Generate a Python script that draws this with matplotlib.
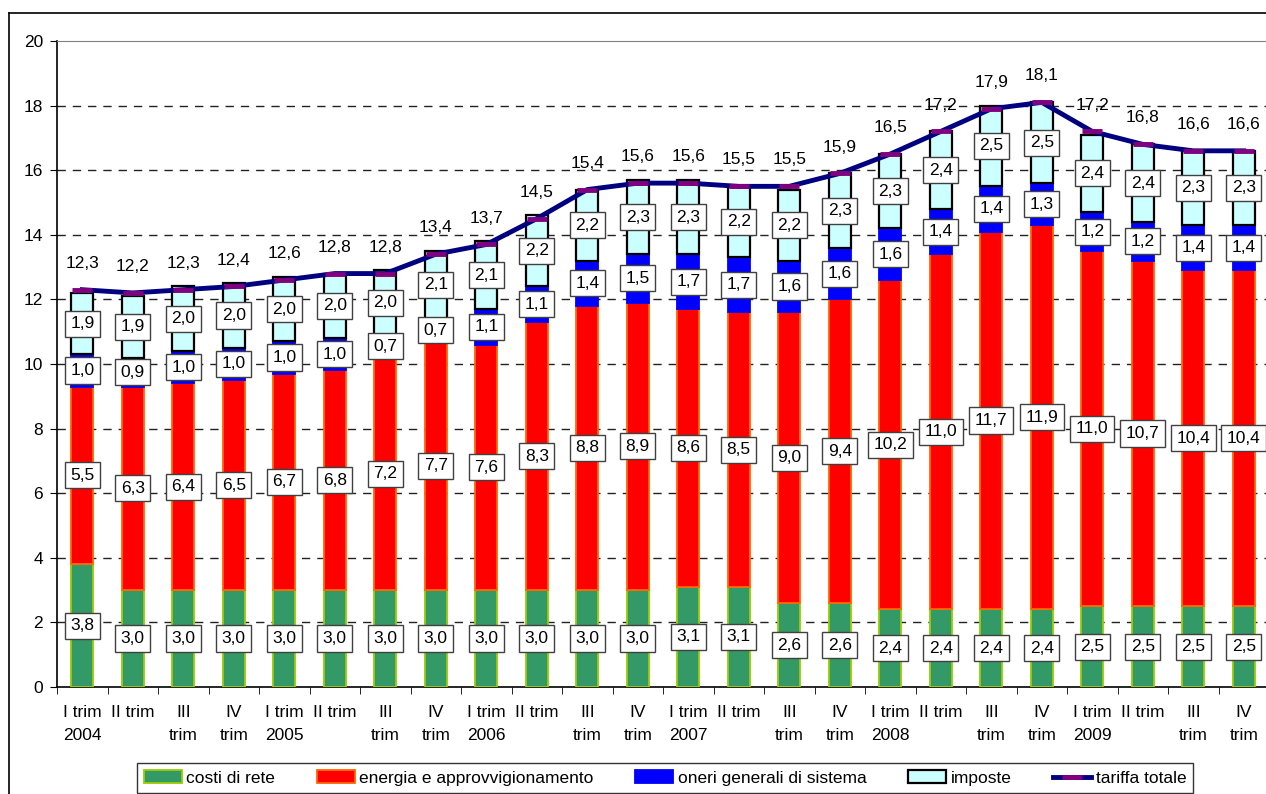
import matplotlib
matplotlib.use('Agg')
import matplotlib.pyplot as plt
from matplotlib.lines import Line2D
import numpy as np

plt.rcParams['font.family'] = ['Liberation Sans', 'DejaVu Sans']

# ============ dati ============
trimestri = ['I trim\n2004', 'II trim', 'III\ntrim', 'IV\ntrim',
             'I trim\n2005', 'II trim', 'III\ntrim', 'IV\ntrim',
             'I trim\n2006', 'II trim', 'III\ntrim', 'IV\ntrim',
             'I trim\n2007', 'II trim', 'III\ntrim', 'IV\ntrim',
             'I trim\n2008', 'II trim', 'III\ntrim', 'IV\ntrim',
             'I trim\n2009', 'II trim', 'III\ntrim', 'IV\ntrim']
costi_rete = [3.8, 3.0, 3.0, 3.0, 3.0, 3.0, 3.0, 3.0, 3.0, 3.0, 3.0, 3.0,
              3.1, 3.1, 2.6, 2.6, 2.4, 2.4, 2.4, 2.4, 2.5, 2.5, 2.5, 2.5]
energia = [5.5, 6.3, 6.4, 6.5, 6.7, 6.8, 7.2, 7.7, 7.6, 8.3, 8.8, 8.9,
           8.6, 8.5, 9.0, 9.4, 10.2, 11.0, 11.7, 11.9, 11.0, 10.7, 10.4, 10.4]
oneri = [1.0, 0.9, 1.0, 1.0, 1.0, 1.0, 0.7, 0.7, 1.1, 1.1, 1.4, 1.5,
         1.7, 1.7, 1.6, 1.6, 1.6, 1.4, 1.4, 1.3, 1.2, 1.2, 1.4, 1.4]
imposte = [1.9, 1.9, 2.0, 2.0, 2.0, 2.0, 2.0, 2.1, 2.1, 2.2, 2.2, 2.3,
           2.3, 2.2, 2.2, 2.3, 2.3, 2.4, 2.5, 2.5, 2.4, 2.4, 2.3, 2.3]
tariffa = [12.3, 12.2, 12.3, 12.4, 12.6, 12.8, 12.8, 13.4, 13.7, 14.5, 15.4, 15.6,
           15.6, 15.5, 15.5, 15.9, 16.5, 17.2, 17.9, 18.1, 17.2, 16.8, 16.6, 16.6]

def fmt(v):
    return f'{v:.1f}'.replace('.', ',')

FS = 12.5
W, H = 1266, 794
fig = plt.figure(figsize=(W / 100, H / 100), dpi=100)
ax = fig.add_axes([57 / W, (H - 687) / H, 1212 / W, 646 / H])

x = np.arange(len(trimestri))
bw = 0.43
serie = [
    (costi_rete, 'costi di rete', '#339966', '#99CC00', 1.3),
    (energia, 'energia e approvvigionamento', '#FF0000', '#FF6600', 1.3),
    (oneri, 'oneri generali di sistema', '#0000FF', '#0000FF', 1.3),
    (imposte, 'imposte', '#CCFFFF', '#000000', 1.6),
]
bottom = np.zeros(len(x))
box = dict(boxstyle='square,pad=0.32', facecolor='white', edgecolor='#404040', linewidth=1)
handles = []
for vals, nome, fc, ec, lw in serie:
    vals = np.array(vals)
    ax.bar(x, vals, bw, bottom=bottom, color=fc, edgecolor=ec, linewidth=lw, zorder=3)
    for xi, b, v in zip(x, bottom, vals):
        ax.text(xi, b + v / 2, fmt(v), ha='center', va='center', fontsize=FS,
                bbox=box, zorder=4)
    handles.append(plt.Rectangle((0, 0), 1, 1, facecolor=fc, edgecolor=ec, linewidth=lw, label=nome))
    bottom = bottom + vals

ax.plot(x, tariffa, color='#000080', linewidth=3.5, marker='_', markersize=15,
        markeredgewidth=3.5, markeredgecolor='#800080', zorder=6)
for xi, t in zip(x, tariffa):
    ax.annotate(fmt(t), (xi, t), xytext=(0, 19), textcoords='offset points',
                ha='center', va='center', fontsize=FS, zorder=7)
handles.append(Line2D([0], [0], color='#000080', linewidth=3.5, marker='_', markersize=15,
                      markeredgewidth=3.5, markeredgecolor='#800080', label='tariffa totale'))

# assi
ax.set_xlim(-0.5, len(x) - 0.5)
ax.set_ylim(0, 20)
ax.set_yticks(np.arange(0, 21, 2))
ax.tick_params(axis='y', labelsize=FS, length=5, pad=5, direction='out')
for yv in range(2, 20, 2):
    ax.axhline(yv, color='#222222', linewidth=1, linestyle=(0, (6, 5)), zorder=1)
ax.set_xticks(x)
ax.set_xticklabels(trimestri, fontsize=FS)
for lab in ax.get_xticklabels():
    lab.set_linespacing(1.65)
ax.tick_params(axis='x', which='major', length=0, pad=13)
ax.set_xticks(np.arange(-0.5, len(x), 1), minor=True)
ax.tick_params(axis='x', which='minor', length=5, direction='out')
ax.spines['top'].set_color('#808080')
ax.spines['right'].set_visible(False)
ax.spines['left'].set_linewidth(1.2)
ax.spines['bottom'].set_linewidth(1.2)

# cornice esterna
fig.add_artist(Line2D([9 / W, 9 / W], [0, 1 - 13 / H], transform=fig.transFigure,
                      color='black', linewidth=1.2))
fig.add_artist(Line2D([9 / W, 1], [1 - 13 / H, 1 - 13 / H], transform=fig.transFigure,
                      color='black', linewidth=1.2))

leg = fig.legend(handles=handles, loc='center', ncol=5, fontsize=FS,
                 bbox_to_anchor=(665 / W, 1 - 778 / H), frameon=True, fancybox=False,
                 handlelength=2.2, handleheight=0.8, handletextpad=0.25,
                 columnspacing=2.4, borderpad=0.4)
leg.get_frame().set_edgecolor('black')
leg.get_frame().set_linewidth(1)

fig.savefig('out.png', dpi=100, facecolor='white')
